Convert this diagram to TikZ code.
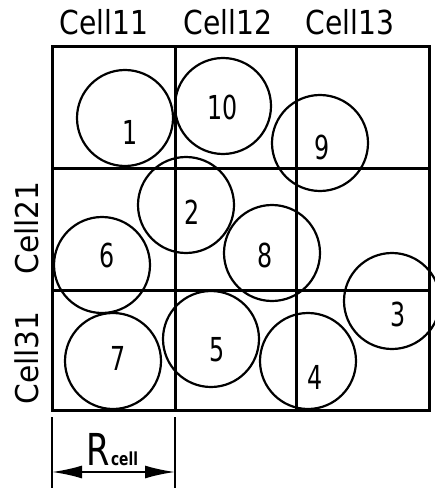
\documentclass[tikz,border=0pt]{standalone}
\usepackage{fontspec}
\setmainfont{DejaVu Sans Condensed}
\usetikzlibrary{arrows.meta}
\tikzset{every picture/.style={>={Latex[length=15pt,width=6.5pt]}},
  grid/.style={line width=1.5pt},
  ball/.style={circle,draw,line width=1.1pt,minimum size=48pt,inner sep=0pt},
  num/.style={font=\fontsize{16.5}{16.5}\selectfont,xscale=0.8},
  head/.style={font=\fontsize{16.5}{16.5}\selectfont,xscale=0.95}}

\begin{document}
\begin{tikzpicture}[x=0.5pt,y=-0.5pt]
  \useasboundingbox (0,0) rectangle (434,492);
  \node (h11) [head] at (104,22) {Cell11};
  \node (h12) [head] at (228,22) {Cell12};
  \node (h13) [head] at (350,22) {Cell13};
  \node (h21) [head,rotate=90] at (27,228) {Cell21};
  \node (h31) [head,rotate=90] at (27,358) {Cell31};
  \draw [grid] (52,47) rectangle (429,410);
  \draw [grid] (175,47) -- (175,410);
  \draw [grid] (296,47) -- (296,410);
  \draw [grid] (52,168) -- (429,168);
  \draw [grid] (52,290) -- (429,290);
  \node (b1) [ball] at (125,118) {};
  \node (b10) [ball] at (223,106) {};
  \node (b9) [ball] at (320,143) {};
  \node (b2) [ball] at (186,205) {};
  \node (b6) [ball] at (102,265) {};
  \node (b8) [ball] at (272,253) {};
  \node (b3) [ball] at (392,301) {};
  \node (b7) [ball] at (113,361) {};
  \node (b5) [ball] at (211,339) {};
  \node (b4) [ball] at (308,361) {};
  \node (n1) [num] at (130,132) {1};
  \node (n10) [num] at (223,107) {10};
  \node (n9) [num] at (322,147) {9};
  \node (n2) [num] at (192,212) {2};
  \node (n6) [num] at (107,255) {6};
  \node (n8) [num] at (265,255) {8};
  \node (n3) [num] at (398,314) {3};
  \node (n7) [num] at (118,358) {7};
  \node (n5) [num] at (217,350) {5};
  \node (n4) [num] at (315,377) {4};
  \draw [line width=1pt] (52,417) -- (52,488);
  \draw [line width=1pt] (175,417) -- (175,488);
  \coordinate (r0) at (52,472);
  \coordinate (r1) at (175,472);
  \draw [<->, line width=1pt] (r0) -- (r1);
  \node (rc) [anchor=base,xscale=0.85] at (112,465) {\fontsize{22}{22}\selectfont R\hspace{1pt}{\fontsize{9}{9}\selectfont\bfseries cell}};
\end{tikzpicture}
\end{document}
